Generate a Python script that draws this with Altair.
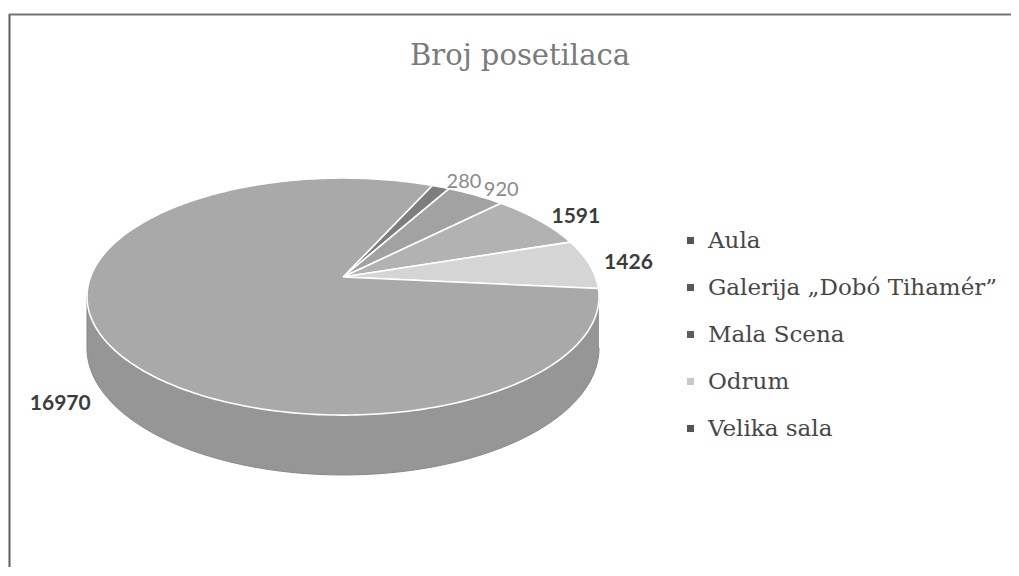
import math
import pandas as pd
import altair as alt

# ---------------- data ----------------
categories = ["Aula", "Galerija „Dobó Tihamér”", "Mala Scena", "Odrum", "Velika sala"]
visitors = [280, 920, 1591, 1426, 16970]
value_labels = ["280", "920", "1591", "1426", "16970"]
chart_title = "Broj posetilaca"

# ---------------- style ----------------
TOP_COLORS = ["#7e7e7e", "#a2a2a2", "#b2b2b2", "#d5d5d5", "#a9a9a9"]
SIDE_COLORS = ["#6e6e6e", "#8e8e8e", "#9c9c9c", "#bdbdbd", "#969696"]
LEGEND_COLORS = ["#555555", "#585858", "#5c5c5c", "#c8c8c8", "#555555"]
LABEL_TONE = ["light", "light", "bold", "bold", "bold"]

W, H = 1001, 552         # plot area (frame) size
CX, CY = 333, 262        # pie centre
RX, RY = 252.5, 115.3    # ellipse radii
PERSP = 0.165            # perspective factor
DEPTH = 50               # pie thickness
START = 24.0             # first slice angle (deg, clockwise from 12 o'clock)


def proj(t, r=1.0, down=0.0):
    tr = math.radians(t)
    s = 1.0 / (1.0 + PERSP * math.cos(tr))
    x = CX + RX * r * math.sin(tr) * s
    y = CY - RY * r * math.cos(tr) * s + DEPTH * down * s
    return x, y


def arc(a, b, step=1.0):
    n = max(2, int(math.ceil(abs(b - a) / step)) + 1)
    return [a + (b - a) * i / (n - 1) for i in range(n)]


total = float(sum(visitors))
bounds = []
acc = START
for v in visitors:
    span = v / total * 360.0
    bounds.append((acc, acc + span))
    acc += span

top_rows, side_rows, label_rows = [], [], []
vis_lo = math.degrees(math.acos(-PERSP))
vis_hi = 360.0 - vis_lo
for j, (name, (t0, t1)) in enumerate(zip(categories, bounds)):
    # top face wedge
    pts = [(CX, CY)] + [proj(t) for t in arc(t0, t1)] + [(CX, CY)]
    for i, (x, y) in enumerate(pts):
        top_rows.append({"poly": f"top{j}", "key": f"{name}|top", "i": i, "x": x, "y": y})
    # visible side wall
    for shift in (-360.0, 0.0, 360.0):
        a = max(t0 + shift, vis_lo)
        b = min(t1 + shift, vis_hi)
        if a < b:
            ts = arc(a, b)
            pts = [proj(t) for t in ts] + [proj(t, down=1.0) for t in reversed(ts)]
            for i, (x, y) in enumerate(pts):
                side_rows.append({"poly": f"side{j}_{shift}", "key": f"{name}|side", "i": i, "x": x, "y": y})
    # data label
    m = (t0 + t1) / 2.0
    front = math.cos(math.radians(m)) < 0
    lx, ly = proj(m, r=1.06, down=1.1 if front else 0.0)
    label_rows.append({
        "Name": name, "label": value_labels[j], "x": lx, "y": ly,
        "align": "left" if math.sin(math.radians(m)) > 0 else "right",
        "tone": LABEL_TONE[j],
    })

top_df = pd.DataFrame(top_rows)
side_df = pd.DataFrame(side_rows)
label_df = pd.DataFrame(label_rows)

fill_domain = [f"{c}|top" for c in categories] + [f"{c}|side" for c in categories]
fill_range = TOP_COLORS + SIDE_COLORS
fill_scale = alt.Scale(domain=fill_domain, range=fill_range)

xs = alt.X("x:Q", scale=alt.Scale(domain=[0, W], nice=False, zero=False), axis=None)
ys = alt.Y("y:Q", scale=alt.Scale(domain=[0, H], nice=False, zero=False, reverse=True), axis=None)

side = alt.Chart(side_df).mark_line(stroke="#888888", strokeWidth=1).encode(
    x=xs, y=ys, order="i:Q", detail="poly:N",
    fill=alt.Fill("key:N", scale=fill_scale, legend=None),
)

top = alt.Chart(top_df).mark_line(stroke="white", strokeWidth=1.6, strokeJoin="round").encode(
    x=xs, y=ys, order="i:Q", detail="poly:N",
    fill=alt.Fill("key:N", scale=fill_scale, legend=None),
)

def label_layer(tone, align, **style):
    return alt.Chart(label_df).transform_filter(
        (alt.datum.tone == tone) & (alt.datum.align == align)
    ).mark_text(align=align, baseline="middle", font="Lato", **style).encode(
        x=xs, y=ys, text="label:N"
    )

labels = [
    label_layer("bold", "left", fontSize=21, fontWeight="bold", color="#3c3c3c"),
    label_layer("bold", "right", fontSize=21, fontWeight="bold", color="#3c3c3c"),
    label_layer("light", "left", fontSize=20, fontWeight="normal", color="#8a8a8a"),
]

legend_layer = alt.Chart(pd.DataFrame({"Name": categories})).mark_point(
    shape="square", filled=True, opacity=0
).encode(
    color=alt.Color(
        "Name:N",
        scale=alt.Scale(domain=categories, range=LEGEND_COLORS),
        sort=categories,
        legend=alt.Legend(
            title=None, orient="none", legendX=669, legendY=214,
            symbolType="square", symbolSize=50, symbolOpacity=1, symbolStrokeWidth=0,
            labelFont="DejaVu Serif", labelFontSize=23, labelColor="#474747",
            rowPadding=23, labelOffset=6, padding=0, labelLimit=500,
        ),
    )
)

title_layer = alt.Chart(pd.DataFrame({"t": [chart_title]})).mark_text(
    font="DejaVu Serif", fontSize=29, color="#7a7a7a", align="center", baseline="alphabetic"
).encode(text="t:N", x=alt.value(510), y=alt.value(50))

frame_df = pd.DataFrame({"a": [0]})
left_line = alt.Chart(frame_df).mark_rule(color="#5e5e5e", strokeWidth=2).encode(
    x=alt.value(-0.5), y=alt.value(0), y2=alt.value(H + 20)
)
top_line = alt.Chart(frame_df).mark_rule(color="#747474", strokeWidth=2).encode(
    x=alt.value(-1.5), x2=alt.value(W + 30), y=alt.value(-0.5)
)

chart = alt.layer(
    side, top, *labels, legend_layer, title_layer, left_line, top_line
).resolve_scale(fill="shared").properties(
    width=W, height=H,
    padding={"left": 2, "top": 7, "right": 0, "bottom": 0},
    autosize=alt.AutoSizeParams(type="none"),
).configure_view(stroke=None)

chart.save("out.html", embed_options={"renderer": "svg", "actions": False})
